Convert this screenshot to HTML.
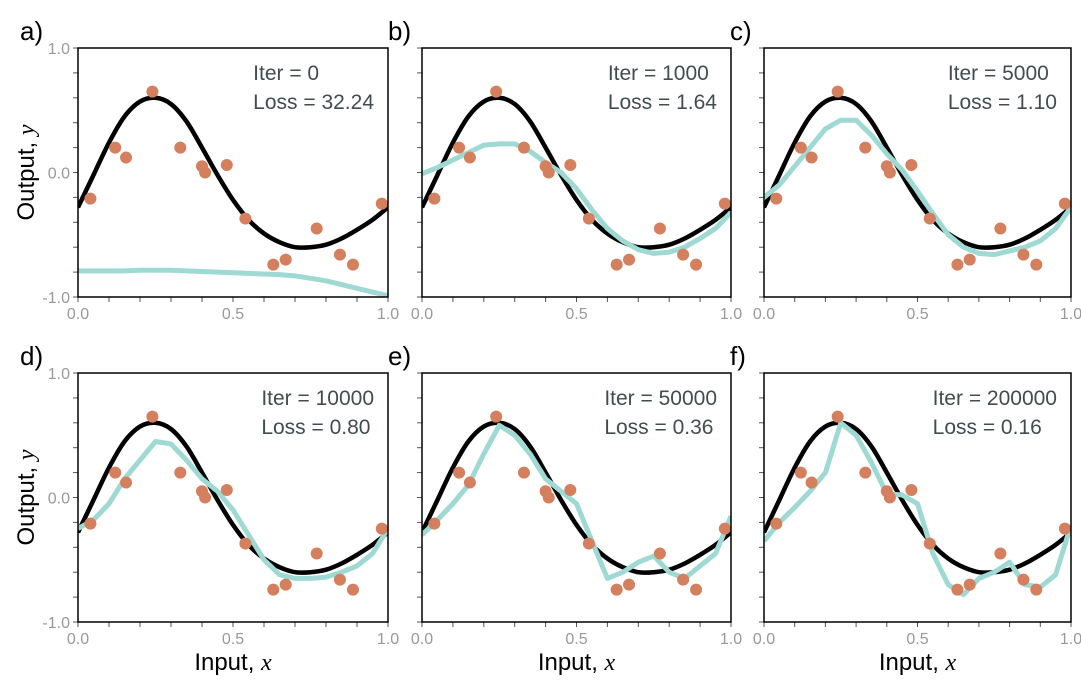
<!DOCTYPE html>
<html><head><meta charset="utf-8"><style>
body{margin:0;background:#fff;}
svg text{font-family:"Liberation Sans",sans-serif;}
</style></head><body>
<svg id="c" width="1081" height="685" xmlns="http://www.w3.org/2000/svg"></svg>
<script>
const xs = [0,0.05,0.1,0.15,0.2,0.25,0.3,0.35,0.4,0.45,0.5,0.55,0.6,0.65,0.7,0.75,0.8,0.85,0.9,0.95,1.0];
const trueY = [-0.28,-0.02,0.24,0.45,0.57,0.6,0.55,0.41,0.2,-0.02,-0.22,-0.38,-0.49,-0.56,-0.6,-0.6,-0.58,-0.53,-0.46,-0.38,-0.28];
const dataX = [0.04,0.12,0.155,0.24,0.33,0.40,0.41,0.48,0.54,0.63,0.67,0.77,0.845,0.887,0.98];
const dataY = [-0.21,0.20,0.12,0.65,0.20,0.05,0.0,0.06,-0.37,-0.74,-0.70,-0.45,-0.66,-0.74,-0.25];
const fitA = [-0.79,-0.79,-0.79,-0.79,-0.785,-0.785,-0.785,-0.79,-0.795,-0.80,-0.805,-0.81,-0.815,-0.82,-0.83,-0.85,-0.87,-0.90,-0.93,-0.96,-0.99];
const fitB = [-0.01,0.04,0.1,0.16,0.22,0.23,0.23,0.17,0.08,0.0,-0.13,-0.3,-0.45,-0.55,-0.62,-0.65,-0.64,-0.6,-0.53,-0.45,-0.32];
const fitC = [-0.2,-0.1,0.05,0.2,0.35,0.42,0.42,0.3,0.15,0.02,-0.15,-0.33,-0.5,-0.6,-0.65,-0.66,-0.63,-0.6,-0.55,-0.45,-0.28];
const fitD = [-0.25,-0.18,-0.05,0.15,0.3,0.45,0.43,0.3,0.15,0.05,-0.1,-0.3,-0.5,-0.62,-0.65,-0.65,-0.64,-0.6,-0.55,-0.45,-0.25];
const fitE = [-0.3,-0.18,-0.05,0.1,0.35,0.58,0.5,0.35,0.15,0.05,-0.05,-0.35,-0.65,-0.6,-0.52,-0.47,-0.6,-0.65,-0.55,-0.45,-0.15];
const fitF = [-0.35,-0.2,-0.08,0.05,0.2,0.6,0.5,0.28,0.03,0.02,-0.05,-0.45,-0.7,-0.78,-0.65,-0.6,-0.52,-0.7,-0.72,-0.62,-0.22];
const panelLetters = ["a)","b)","c)","d)","e)","f)"];
const iters = ["0","1000","5000","10000","50000","200000"];
const losses = ["32.24","1.64","1.10","0.80","0.36","0.16"];
const xTickLabels = ["0.0","0.5","1.0"];
const yTickLabels = ["1.0","0.0","-1.0"];

const NS="http://www.w3.org/2000/svg";
const svg=document.getElementById('c');
function mk(tag,attrs,parent){const e=document.createElementNS(NS,tag);for(const k in attrs)e.setAttribute(k,attrs[k]);(parent||svg).appendChild(e);return e;}
function smoothPath(pts){
  let d='M'+pts[0][0]+','+pts[0][1];
  for(let i=0;i<pts.length-1;i++){
    const p0=pts[Math.max(0,i-1)],p1=pts[i],p2=pts[i+1],p3=pts[Math.min(pts.length-1,i+2)];
    const c1x=p1[0]+(p2[0]-p0[0])/6,c1y=p1[1]+(p2[1]-p0[1])/6;
    const c2x=p2[0]-(p3[0]-p1[0])/6,c2y=p2[1]-(p3[1]-p1[1])/6;
    d+=' C'+c1x+','+c1y+' '+c2x+','+c2y+' '+p2[0]+','+p2[1];
  }
  return d;
}
const fits=[fitA,fitB,fitC,fitD,fitE,fitF];
const lefts=[78,422,764], rights=[388,731,1071], tops=[48,373], bottoms=[297,622];
for(let p=0;p<6;p++){
  const col=p%3,row=Math.floor(p/3);
  const L=lefts[col],R=rights[col],T=tops[row],B=bottoms[row];
  const sx=v=>L+v*(R-L), sy=v=>T+(1-v)/2*(B-T);
  const g=mk('g',{});
  
  
  const cp=mk('clipPath',{id:'cp'+p},g);mk('rect',{x:L,y:T,width:R-L,height:B-T},cp);
  for(let i=0;i<=10;i++){
    const t=mk('line',{x1:sx(i/10),x2:sx(i/10),y1:B,y2:B+5,stroke:'#555','stroke-width':1},g);
    
    const v=-1+i*0.2;
    const t2=mk('line',{x1:L-5,x2:L,y1:sy(v),y2:sy(v),stroke:'#555','stroke-width':1},g);
    
  }
  xTickLabels.forEach((s,i)=>{const t=mk('text',{x:sx(i*0.5),y:B+22,'text-anchor':'middle','font-size':16,fill:'#999'},g);t.textContent=s;
    });
  if(col===0) yTickLabels.forEach((s,i)=>{const t=mk('text',{x:L-8,y:sy(1-i)+6,'text-anchor':'end','font-size':16,fill:'#999'},g);t.textContent=s;
    });
  const cg=mk('g',{'clip-path':'url(#cp'+p+')'},g);
  const tl=mk('path',{d:smoothPath(xs.map((x,i)=>[sx(x),sy(trueY[i])])),fill:'none',stroke:'#000','stroke-width':4.5,'stroke-linejoin':'round'},cg);
  
  const fl=mk('polyline',{points:xs.map((x,i)=>sx(x)+','+sy(fits[p][i])).join(' '),fill:'none',stroke:'#9fd9d3','stroke-width':5,'stroke-linejoin':'round'},cg);
  
  dataX.forEach((x,i)=>{const c=mk('circle',{cx:sx(x),cy:sy(dataY[i]),r:6,fill:'#d4805e'},cg);
    });
  const fr=mk('rect',{x:L,y:T,width:R-L,height:B-T,fill:'none',stroke:'#000','stroke-width':1.5},g);
  
  const it=mk('text',{x:R-14,y:T+32,'text-anchor':'end','font-size':21,fill:'#444c50'},g);
  const ls=mk('text',{x:R-14,y:T+61,'text-anchor':'end','font-size':21,fill:'#444c50'},g);
  ls.textContent='Loss = '+losses[p];
  it.textContent='Iter = '+iters[p];
  const w=Math.max(it.getComputedTextLength(),ls.getComputedTextLength());
  it.setAttribute('text-anchor','start');ls.setAttribute('text-anchor','start');
  it.setAttribute('x',R-14-w);ls.setAttribute('x',R-14-w);
  
  
  const pl=mk('text',{x:L-58+(col?24:0),y:T-8,'font-size':26,fill:'#000'},g);pl.textContent=panelLetters[p];
  
  if(col===0){const yl=mk('text',{transform:'translate(34,'+((T+B)/2)+') rotate(-90)','text-anchor':'middle','font-size':24,fill:'#000'},g);
    yl.innerHTML='Output, <tspan font-style="italic" font-family="Liberation Serif">y</tspan>';
    }
  if(row===1){const xl=mk('text',{x:(L+R)/2,y:670,'text-anchor':'middle','font-size':24,fill:'#000'},g);
    xl.innerHTML='Input, <tspan font-style="italic" font-family="Liberation Serif">x</tspan>';
    }
}
</script>
</body></html>
